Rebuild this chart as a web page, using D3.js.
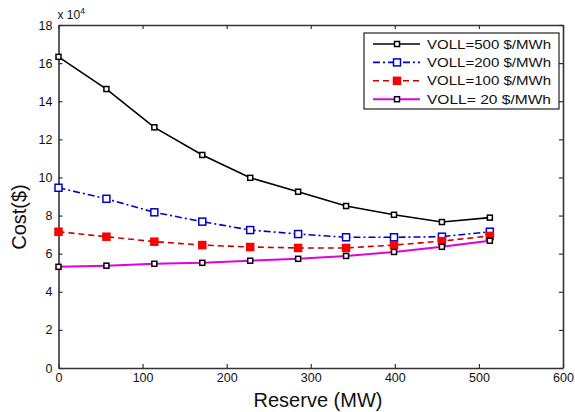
<!DOCTYPE html>
<html><head><meta charset="utf-8">
<script src="https://cdn.jsdelivr.net/npm/d3@7"></script>
<style>
body{margin:0;background:#fff;}
text{font-family:"Liberation Sans",Arial,sans-serif;}
</style></head>
<body><svg id="c" width="575" height="412"></svg>
<script>
const reserve = [0, 57, 114, 171, 228, 285, 342, 399, 456, 513];
const voll500 = [163300, 146400, 126300, 111800, 99800, 92500, 85000, 80400, 76600, 78900];
const voll200 = [94600, 88800, 81700, 76800, 72400, 70300, 68600, 68600, 68900, 71500];
const voll100 = [71500, 68900, 66300, 64500, 63500, 63000, 63000, 64500, 66600, 69300];
const voll20  = [53100, 53700, 54700, 55200, 56300, 57300, 58800, 60900, 63600, 66800];
const seriesNames = ["VOLL=500 $/MWh", "VOLL=200 $/MWh", "VOLL=100 $/MWh", "VOLL= 20 $/MWh"];
const xTicks = [0, 100, 200, 300, 400, 500, 600];
const yTicks = [0, 20000, 40000, 60000, 80000, 100000, 120000, 140000, 160000, 180000];

const series = [
  {name: seriesNames[0], values: voll500, color: "#000", dash: null, width: 1.6, mfill: "#fff", mstroke: "#000", msize: 5},
  {name: seriesNames[1], values: voll200, color: "#0000c8", dash: "7,3,2,3", width: 1.6, mfill: "#fff", mstroke: "#0000c8", msize: 7},
  {name: seriesNames[2], values: voll100, color: "#c80000", dash: "6,4", width: 1.6, mfill: "#ff0000", mstroke: "#ff0000", msize: 7},
  {name: seriesNames[3], values: voll20, color: "#e000e0", dash: null, width: 2, mfill: "#fff", mstroke: "#000", msize: 5}
];

const svg = d3.select("#c");
const L = 58.5, R = 563, T = 25, B = 368;
const x = d3.scaleLinear().domain([0, 600]).range([L, R]);
const y = d3.scaleLinear().domain([0, 180000]).range([B, T]);

const axisColor = "#333";
function styleAxis(g){
  g.selectAll(".domain").attr("stroke", axisColor).attr("stroke-width", 1.6);
  g.selectAll(".tick line").attr("stroke", axisColor).attr("stroke-width", 1.2);
  g.selectAll(".tick text").attr("fill", "#111").style("font-size", "12.5px").style("font-family", "Liberation Sans, Arial, sans-serif");
}
svg.append("g").attr("transform", `translate(0,${B})`)
  .call(d3.axisBottom(x).tickValues(xTicks).tickSizeInner(-4).tickSizeOuter(0).tickPadding(5).tickFormat(d3.format("d")))
  .call(styleAxis);
svg.append("g").attr("transform", `translate(0,${T})`)
  .call(d3.axisTop(x).tickValues(xTicks).tickSizeInner(-4).tickSizeOuter(0).tickFormat(""))
  .call(styleAxis);
svg.append("g").attr("transform", `translate(${L},0)`)
  .call(d3.axisLeft(y).tickValues(yTicks).tickSizeInner(-4).tickSizeOuter(0).tickPadding(6).tickFormat(d => d / 10000))
  .call(styleAxis);
svg.append("g").attr("transform", `translate(${R},0)`)
  .call(d3.axisRight(y).tickValues(yTicks).tickSizeInner(-4).tickSizeOuter(0).tickFormat(""))
  .call(styleAxis);

// multiplier
const mt = svg.append("text").attr("x", L - 1).attr("y", 19).attr("fill", "#111").style("font-size", "12px");
mt.append("tspan").text("x 10");
mt.append("tspan").attr("dy", -5).style("font-size", "8.5px").text("4");

// lines
const line = d3.line().x((d, i) => x(reserve[i])).y(d => y(d));
series.forEach(s => {
  svg.append("path").datum(s.values).attr("d", line)
    .attr("fill", "none").attr("stroke", s.color).attr("stroke-width", s.width)
    .attr("stroke-dasharray", s.dash);
  svg.selectAll(null).data(s.values).enter().append("rect")
    .attr("x", (d, i) => x(reserve[i]) - s.msize / 2)
    .attr("y", d => y(d) - s.msize / 2)
    .attr("width", s.msize).attr("height", s.msize)
    .attr("fill", s.mfill).attr("stroke", s.mstroke).attr("stroke-width", 1.5);
});

// axis labels
svg.append("text").attr("x", 318).attr("y", 407).attr("text-anchor", "middle")
  .style("font-size", "20px").attr("fill", "#111").text("Reserve (MW)");
svg.append("text").attr("transform", "translate(26,217) rotate(-90)").attr("text-anchor", "middle")
  .style("font-size", "20px").attr("fill", "#111").text("Cost($)");

// legend
const lg = svg.append("g");
lg.append("rect").attr("x", 364).attr("y", 33).attr("width", 195).attr("height", 76)
  .attr("fill", "#fff").attr("stroke", "#222").attr("stroke-width", 1.2);
series.forEach((s, i) => {
  const yy = 44 + i * 18.4;
  lg.append("line").attr("x1", 373).attr("x2", 420).attr("y1", yy).attr("y2", yy)
    .attr("stroke", s.color).attr("stroke-width", s.width).attr("stroke-dasharray", s.dash);
  lg.append("rect").attr("x", 397 - s.msize / 2).attr("y", yy - s.msize / 2)
    .attr("width", s.msize).attr("height", s.msize)
    .attr("fill", s.mfill).attr("stroke", s.mstroke).attr("stroke-width", 1.5);
  lg.append("text").attr("x", 427).attr("y", yy + 4.5).attr("fill", "#111")
    .style("font-size", "13px").attr("textLength", 124).attr("lengthAdjust", "spacingAndGlyphs")
    .text(s.name);
});
</script></body></html>
